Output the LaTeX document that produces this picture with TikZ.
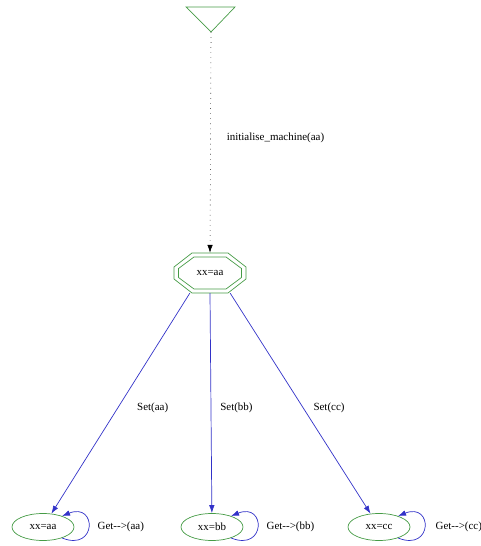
\documentclass[tikz,border=0pt]{standalone}
\usepackage{fontspec}
\setmainfont{Liberation Serif}
\usetikzlibrary{shapes.geometric,arrows.meta}
\definecolor{stategreen}{RGB}{70,155,70}
\definecolor{edgeblue}{RGB}{50,50,200}
\tikzset{
  state/.style={ellipse,draw=stategreen,line width=0.7pt,inner sep=0pt,
    minimum width=62bp,minimum height=27bp,font=\fontsize{11}{13}\selectfont},
  initstate/.style={rectangle,inner sep=0pt,minimum width=72bp,minimum height=40bp,
    font=\fontsize{11}{13}\selectfont},
  octline/.style={draw=stategreen,line width=0.7pt},
  setedge/.style={draw=edgeblue,line width=0.7pt,-{Latex[length=8bp,width=5.5bp]}},
  getedge/.style={draw=edgeblue,line width=0.7pt,-{Latex[length=8bp,width=5.5bp]}},
  initedge/.style={draw=black,line width=0.6pt,dash pattern=on 0.6pt off 4.5pt,
    -{Latex[length=8bp,width=5.5bp]}},
  elabel/.style={font=\fontsize{11}{13}\selectfont,inner sep=0pt}
}
\begin{document}
\begin{tikzpicture}[x=1bp,y=1bp]
  \useasboundingbox (0,0) rectangle (481,546);
  % start marker
  \draw[octline] (186,539) -- (235,539) -- (211,514) -- cycle;
  \coordinate (start) at (211,514);
  % states
  \node[initstate] (init) at (210,273) {xx=aa};
  \draw[octline,shift={(init.center)}] (-36,6) -- (-18,20) -- (18,20) -- (36,6)
    -- (36,-6) -- (18,-20) -- (-18,-20) -- (-36,-6) -- cycle;
  \draw[octline,shift={(init.center)}] (-31.5,4.5) -- (-16,16) -- (16,16) -- (31.5,4.5)
    -- (31.5,-4.5) -- (16,-16) -- (-16,-16) -- (-31.5,-4.5) -- cycle;
  \node[state] (aa) at (43,19) {xx=aa};
  \node[state] (bb) at (212,19) {xx=bb};
  \node[state] (cc) at (379,19) {xx=cc};
  % transitions
  \draw[initedge] (start) -- (init.north)
    node[elabel,pos=0.48,right=16bp] {initialise\_machine(aa)};
  \draw[setedge] (init.-135) -- (aa)
    node[elabel,pos=0.52,right=19bp] {Set(aa)};
  \draw[setedge] (init.south) -- (bb)
    node[elabel,pos=0.52,right=9bp] {Set(bb)};
  \draw[setedge] (init.-45) -- (cc)
    node[elabel,pos=0.52,right=10bp] {Set(cc)};
  \draw[getedge] (aa.-30) .. controls +(35,-14) and +(35,14) .. (aa.30)
    node[elabel,pos=0.5,right=9bp] {Get-{}-{}>(aa)};
  \draw[getedge] (bb.-30) .. controls +(35,-14) and +(35,14) .. (bb.30)
    node[elabel,pos=0.5,right=9bp] {Get-{}-{}>(bb)};
  \draw[getedge] (cc.-30) .. controls +(35,-14) and +(35,14) .. (cc.30)
    node[elabel,pos=0.5,right=11bp] {Get-{}-{}>(cc)};
\end{tikzpicture}
\end{document}
